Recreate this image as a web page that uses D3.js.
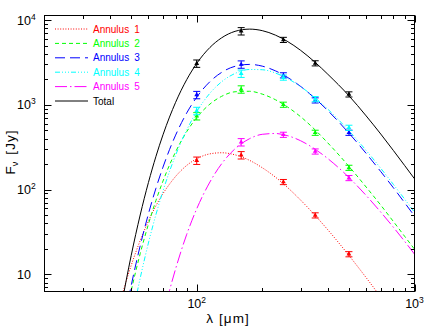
<!DOCTYPE html>
<html><head><meta charset="utf-8">
<script src="https://cdn.jsdelivr.net/npm/d3@7/dist/d3.min.js"></script>
<style>body{margin:0;background:#fff}svg{display:block}text{font-family:"Liberation Sans",Arial,sans-serif}</style>
</head><body><svg id="c" width="440" height="329"></svg>
<script>
// model curve wavelength grid (micron)
const lambdaGrid = [40,45,50,55,60,65,70,75,80,90,100,115,130,150,175,200,230,260,300,350,400,500,600,700,800,900,1000];
// model curves (Jy)
const annulus1Curve = [1.60,5.22,12.7,25.0,42.5,64.5,89.6,116,143,193,231,264,272,257,221,181,140,107,75.1,49.4,33.5,16.7,9.13,5.38,3.37,2.21,1.51];
const annulus2Curve = [0.326,1.75,6.37,17.5,39.0,74.6,126,195,279,483,707,1021,1258,1426,1445,1338,1148,951,724,505,355,188,107,65.5,42.0,28.2,19.8];
const annulus3Curve = [0.305,1.84,7.33,21.7,51.6,104,184,296,439,803,1232,1878,2411,2850,3001,2861,2517,2126,1649,1185,855,463,267,163,105,70.2,48.7];
const annulus4Curve = [0.084,0.598,2.72,8.98,23.4,50.9,96.4,164,255,507,832,1371,1868,2347,2613,2596,2370,2058,1641,1209,888,493,289,178,115,77.5,54.0];
const annulus5Curve = [0.0004,0.0048,0.0325,0.148,0.506,1.39,3.20,6.44,11.6,29.7,59.3,123,201,303,399,449,459,434,377,299,232,139,85.1,54.2,35.9,24.6,17.3];
const totalCurve    = [0.658,4.08,16.6,50.1,121,247,443,717,1071,1987,3080,4757,6166,7367,7825,7508,6644,5637,4395,3170,2294,1280,740,452,289,193,134];

// observed photometry
const obsLambda = [100,160,250,350,500];
const obsRelErr = [0.10,0.10,0.07,0.07,0.07];
const annulus1Obs = [220,255,123,49.7,17.3];
const annulus2Obs = [736,1524,1005,469,181];
const annulus3Obs = [1310,3000,2234,1130,469];
const annulus4Obs = [850,2340,2100,1170,537];
const annulus5Obs = [null,363,444,282,137];
const totalObs    = [3075,7410,5850,3096,1330];

const seriesNames  = ["Annulus 1","Annulus 2","Annulus 3","Annulus 4","Annulus 5","Total"];
const seriesColors = ["#ff0000","#00ff00","#0000ff","#00ffff","#ff00ff","#000000"];
const seriesDash   = ["1,1.6","4,3","10,5","5,2,1,2,1,2,1,2","12,3,1.5,3",null];
const curves = [annulus1Curve,annulus2Curve,annulus3Curve,annulus4Curve,annulus5Curve,totalCurve];
const obs    = [annulus1Obs,annulus2Obs,annulus3Obs,annulus4Obs,annulus5Obs,totalObs];

const xTickLabels = [{v:100,b:"10",e:"2"},{v:1000,b:"10",e:"3"}];
const yTickLabels = [{v:10,b:"10",e:""},{v:100,b:"10",e:"2"},{v:1000,b:"10",e:"3"},{v:10000,b:"10",e:"4"}];

const L = 44.5, R = 414.5, T = 15.5, B = 291.5;
const svg = d3.select("#c");
const x = d3.scaleLog().domain([20,1000]).range([L,R]);
const y = d3.scaleLog().domain([6.27,11330]).range([B,T]);

svg.append("defs").append("clipPath").attr("id","clip")
  .append("rect").attr("x",L).attr("y",T).attr("width",R-L).attr("height",B-T);

const plot = svg.append("g").attr("clip-path","url(#clip)");
const line = d3.line().x(d=>x(d[0])).y(d=>y(d[1])).curve(d3.curveMonotoneX);

curves.forEach((c,i)=>{
  const pts = lambdaGrid.map((l,j)=>[l,c[j]]);
  plot.append("path").attr("d",line(pts)).attr("fill","none")
    .attr("stroke",seriesColors[i]).attr("stroke-width",1)
    .attr("stroke-dasharray",seriesDash[i]);
});

// error bars + markers
obs.forEach((o,i)=>{
  o.forEach((v,j)=>{
    if(v==null) return;
    const xx = x(obsLambda[j]), e = v*obsRelErr[j];
    const y1 = y(v-e), y2 = y(v+e);
    const g = plot.append("g").attr("stroke",seriesColors[i]).attr("stroke-width",1);
    g.append("line").attr("x1",xx).attr("x2",xx).attr("y1",y1).attr("y2",y2);
    g.append("line").attr("x1",xx-3.5).attr("x2",xx+3.5).attr("y1",y1).attr("y2",y1);
    g.append("line").attr("x1",xx-3.5).attr("x2",xx+3.5).attr("y1",y2).attr("y2",y2);
    plot.append("path").attr("d",d3.symbol(d3.symbolTriangle).size(10)())
      .attr("transform",`translate(${xx},${y(v)})`).attr("fill",seriesColors[i]);
  });
});

// frame
svg.append("rect").attr("x",L).attr("y",T).attr("width",R-L).attr("height",B-T)
  .attr("fill","none").attr("stroke","#000").attr("stroke-width",1);

const isMajor = t => Math.abs(Math.log10(t)-Math.round(Math.log10(t)))<1e-9;
const ax = svg.append("g").attr("stroke","#000").attr("stroke-width",1);
x.ticks().forEach(t=>{
  if(t<=20||t>1000) return;
  const len = isMajor(t)?7:3.5, xx = Math.round(x(t))+0.5;
  ax.append("line").attr("x1",xx).attr("x2",xx).attr("y1",B).attr("y2",B-len);
  ax.append("line").attr("x1",xx).attr("x2",xx).attr("y1",T).attr("y2",T+len);
});
y.ticks().forEach(t=>{
  const len = isMajor(t)?7:3.5, yy = Math.round(y(t))+0.5;
  ax.append("line").attr("x1",L).attr("x2",L+len).attr("y1",yy).attr("y2",yy);
  ax.append("line").attr("x1",R).attr("x2",R-len).attr("y1",yy).attr("y2",yy);
});

// tick labels
function lab(sel,d){
  sel.append("tspan").text(d.b);
  if(d.e) sel.append("tspan").attr("dy",-5).attr("font-size",8.5).text(d.e);
}
xTickLabels.forEach(d=>{
  const t = svg.append("text").attr("x",x(d.v)).attr("y",307.5).attr("text-anchor","middle")
    .attr("font-size",12.5).attr("fill","#000");
  lab(t,d);
});
yTickLabels.forEach(d=>{
  const t = svg.append("text").attr("x",17).attr("y",y(d.v)+4.5).attr("text-anchor","start")
    .attr("font-size",12.5).attr("fill","#000");
  lab(t,d);
});

// axis titles
const xt = svg.append("text").attr("x",228).attr("y",323).attr("text-anchor","middle")
  .attr("font-size",13.5).attr("fill","#000");
xt.append("tspan").text("λ");
xt.append("tspan").attr("dx",6).attr("letter-spacing",1).text("[μm]");
const yt = svg.append("text").attr("transform","translate(15,152) rotate(-90)")
  .attr("text-anchor","middle").attr("font-size",13.5).attr("fill","#000");
yt.append("tspan").text("F");
yt.append("tspan").attr("dy",3).attr("font-size",9).text("ν");
yt.append("tspan").attr("dy",-3).attr("dx",7).attr("letter-spacing",1).text("[Jy]");

// legend
seriesNames.forEach((n,i)=>{
  const yy = 29 + i*14.4;
  svg.append("line").attr("x1",55).attr("x2",88).attr("y1",yy).attr("y2",yy)
    .attr("stroke",seriesColors[i]).attr("stroke-width",1).attr("stroke-dasharray",seriesDash[i]);
  const parts = n.split(" ");
  const t = svg.append("text").attr("x",93).attr("y",yy+3.6).attr("font-size",10)
    .attr("fill",seriesColors[i]);
  t.append("tspan").text(parts[0]);
  if(parts[1]) t.append("tspan").attr("dx",5).text(parts[1]);
});
</script></body></html>
